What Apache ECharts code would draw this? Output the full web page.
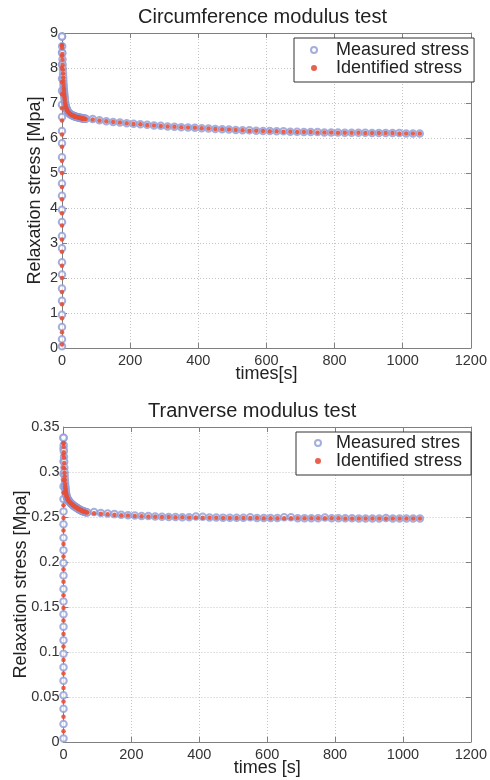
<!DOCTYPE html>
<html>
<head>
<meta charset="utf-8">
<script src="https://cdn.jsdelivr.net/npm/echarts@6/dist/echarts.min.js"></script>
<style>
html,body{margin:0;padding:0;background:#fff;}
#c{width:490px;height:780px;}
</style>
</head>
<body>
<div id="c"></div>
<script>
// ---------- Top chart: Circumference modulus test ----------
const topTitle = "Circumference modulus test";
const topLegend = ["Measured stress", "Identified stress"];
const topLoadMeasured = [0.05,0.25,0.6,0.95,1.35,1.7,2.1,2.45,2.85,3.2,3.6,3.95,4.35,4.7,5.1,5.45,5.85,6.2,6.6,6.95,7.35,7.7,8.1,8.45,8.9];
const topLoadIdentified = [0.1,0.45,0.85,1.25,1.6,2.0,2.35,2.75,3.1,3.5,3.85,4.25,4.6,5.0,5.35,5.75,6.1,6.5,6.85,7.25,7.6,8.0,8.35,8.65];
const topDenseTime = [0,0.5,1,1.5,2,2.5,3,3.5,4,4.5,5,5.5,6,6.5,7,7.5,8,9,10,11,12,13,14,15,16,18,20,22,24,26,28,30,32,34,36,38,40,42,44,46,48,50,52,54,56,58,60,62,64,66,68,70];
const topDenseMeasured = [8.90,8.62,8.42,8.25,8.10,7.97,7.85,7.74,7.64,7.55,7.47,7.40,7.33,7.27,7.21,7.16,7.11,7.03,6.97,6.92,6.88,6.85,6.82,6.80,6.78,6.75,6.72,6.70,6.68,6.67,6.66,6.65,6.64,6.63,6.62,6.62,6.61,6.60,6.60,6.59,6.59,6.58,6.58,6.57,6.57,6.57,6.56,6.56,6.56,6.55,6.55,6.55];
const topDenseIdentified = [8.65,8.58,8.40,8.24,8.09,7.96,7.84,7.73,7.63,7.54,7.46,7.39,7.32,7.26,7.20,7.15,7.10,7.02,6.96,6.91,6.87,6.84,6.81,6.79,6.77,6.74,6.72,6.70,6.68,6.67,6.66,6.65,6.64,6.63,6.62,6.61,6.61,6.60,6.60,6.59,6.59,6.58,6.58,6.57,6.57,6.56,6.56,6.56,6.55,6.55,6.55,6.54];
const topSparseTime = [90,110,130,150,170,190,210,230,250,270,290,310,330,350,370,390,410,430,450,470,490,510,530,550,570,590,610,630,650,670,690,710,730,750,770,790,810,830,850,870,890,910,930,950,970,990,1010,1030,1050];
const topSparseMeasured = [6.54,6.51,6.48,6.46,6.44,6.42,6.41,6.39,6.38,6.36,6.35,6.33,6.32,6.31,6.30,6.29,6.28,6.27,6.26,6.25,6.24,6.23,6.22,6.22,6.21,6.20,6.20,6.19,6.19,6.18,6.18,6.17,6.17,6.17,6.16,6.16,6.16,6.15,6.15,6.15,6.15,6.14,6.14,6.14,6.14,6.14,6.13,6.13,6.13];
const topSparseIdentified = [6.53,6.50,6.48,6.46,6.44,6.42,6.40,6.39,6.37,6.36,6.34,6.33,6.32,6.31,6.30,6.29,6.28,6.27,6.26,6.25,6.24,6.23,6.22,6.21,6.21,6.20,6.19,6.19,6.18,6.18,6.17,6.17,6.17,6.16,6.16,6.16,6.15,6.15,6.15,6.15,6.14,6.14,6.14,6.14,6.14,6.13,6.13,6.13,6.13];

// ---------- Bottom chart: Tranverse modulus test ----------
const botTitle = "Tranverse modulus test";
const botLegend = ["Measured stres", "Identified stress"];
const botLoadMeasured = [0.004,0.02,0.037,0.052,0.068,0.083,0.098,0.113,0.128,0.142,0.156,0.17,0.185,0.199,0.213,0.227,0.242,0.256,0.27,0.284,0.298,0.312,0.326,0.338];
const botLoadIdentified = [0.012,0.028,0.045,0.06,0.076,0.091,0.106,0.12,0.135,0.149,0.163,0.178,0.192,0.206,0.22,0.235,0.249,0.263,0.277,0.291,0.305,0.319,0.332];
const botDenseTime = [0,0.5,1,1.5,2,2.5,3,3.5,4,4.5,5,5.5,6,6.5,7,7.5,8,9,10,11,12,13,14,15,16,18,20,22,24,26,28,30,32,34,36,38,40,42,44,46,48,50,52,54,56,58,60,62,64,66,68,70];
const botDenseMeasured = [0.338,0.330,0.323,0.317,0.311,0.305,0.300,0.296,0.292,0.288,0.285,0.283,0.281,0.279,0.277,0.276,0.275,0.273,0.272,0.271,0.270,0.2695,0.269,0.268,0.2675,0.267,0.266,0.265,0.2645,0.264,0.263,0.2625,0.262,0.2615,0.261,0.2605,0.260,0.2595,0.259,0.2585,0.258,0.2577,0.2573,0.257,0.2567,0.2564,0.2561,0.2558,0.2556,0.2554,0.2552,0.255];
const botDenseIdentified = [0.332,0.328,0.322,0.316,0.310,0.304,0.299,0.295,0.291,0.287,0.284,0.282,0.280,0.278,0.277,0.276,0.275,0.273,0.272,0.271,0.270,0.269,0.2685,0.268,0.2675,0.2665,0.266,0.265,0.2645,0.264,0.2632,0.2625,0.262,0.2615,0.261,0.2605,0.260,0.2595,0.259,0.2586,0.2582,0.2578,0.2574,0.257,0.2567,0.2564,0.2561,0.2558,0.2555,0.2553,0.2551,0.2549];
const botSparseTime = [90,110,130,150,170,190,210,230,250,270,290,310,330,350,370,390,410,430,450,470,490,510,530,550,570,590,610,630,650,670,690,710,730,750,770,790,810,830,850,870,890,910,930,950,970,990,1010,1030,1050];
const botSparseMeasured = [0.2555,0.2545,0.2540,0.2532,0.2525,0.2520,0.2516,0.2512,0.2510,0.2506,0.2504,0.2500,0.2501,0.2498,0.2497,0.2505,0.2503,0.2495,0.2494,0.2493,0.2492,0.2492,0.2491,0.2496,0.2490,0.2489,0.2489,0.2488,0.2496,0.2497,0.2487,0.2487,0.2486,0.2486,0.2494,0.2486,0.2485,0.2485,0.2485,0.2484,0.2484,0.2484,0.2484,0.2490,0.2483,0.2483,0.2483,0.2483,0.2483];
const botSparseIdentified = [0.2542,0.2536,0.2530,0.2525,0.2520,0.2516,0.2512,0.2509,0.2506,0.2503,0.2501,0.2499,0.2497,0.2496,0.2495,0.2494,0.2493,0.2492,0.2491,0.2490,0.2490,0.2489,0.2489,0.2488,0.2488,0.2487,0.2487,0.2487,0.2486,0.2486,0.2486,0.2486,0.2485,0.2485,0.2485,0.2485,0.2485,0.2484,0.2484,0.2484,0.2484,0.2484,0.2484,0.2483,0.2483,0.2483,0.2483,0.2483,0.2483];

const xName1 = "times[s]", xName2 = "times [s]";
const yName = "Relaxation stress [Mpa]";

// ---------- build ----------
const FONT = "'Liberation Sans', Arial, sans-serif";
const BLUE = '#8e9bd6', RED = '#e4503a', AX = '#808080';

function pts(times, vals) { return vals.map((v, i) => [times[i], v]); }
function loadPts(vals) { return vals.map(v => [0, v]); }

const topMeasured = loadPts(topLoadMeasured).concat(pts(topDenseTime, topDenseMeasured), pts(topSparseTime, topSparseMeasured));
const topIdentified = loadPts(topLoadIdentified).concat(pts(topDenseTime, topDenseIdentified), pts(topSparseTime, topSparseIdentified));
const botMeasured = loadPts(botLoadMeasured).concat(pts(botDenseTime, botDenseMeasured), pts(botSparseTime, botSparseMeasured));
const botIdentified = loadPts(botLoadIdentified).concat(pts(botDenseTime, botDenseIdentified), pts(botSparseTime, botSparseIdentified));

function xAxes(gi, name) {
  const base = {gridIndex: gi, type: 'value', min: 0, max: 1200, interval: 200,
    axisLine: {show: true, onZero: false, lineStyle: {color: AX, width: 1}},
    axisTick: {show: true, inside: true, length: 5, lineStyle: {color: AX}}};
  return [
    Object.assign({}, base, {position: 'bottom', name: name, nameLocation: 'middle', nameGap: 17, nameMoveOverlap: false,
      nameTextStyle: {fontFamily: FONT, fontSize: 18, color: '#222'},
      axisLabel: {show: true, margin: 5, fontFamily: FONT, fontSize: 14.5, color: '#333', formatter: v => String(v)},
      splitLine: {show: true, lineStyle: {color: '#c4c4c4', type: [1, 2], width: 1}}}),
    Object.assign({}, base, {position: 'top', axisLabel: {show: false}, splitLine: {show: false}})
  ];
}
function yAxes(gi, max, interval, gap, fmt) {
  const base = {gridIndex: gi, type: 'value', min: 0, max: max, interval: interval,
    axisLine: {show: true, onZero: false, lineStyle: {color: AX, width: 1}},
    axisTick: {show: true, inside: true, length: 5, lineStyle: {color: AX}}};
  return [
    Object.assign({}, base, {position: 'left', name: yName, nameLocation: 'middle', nameGap: gap, nameMoveOverlap: false,
      nameTextStyle: {fontFamily: FONT, fontSize: 18, color: '#222'},
      axisLabel: {show: true, margin: 4, fontFamily: FONT, fontSize: 14.5, color: '#333', formatter: fmt},
      splitLine: {show: true, lineStyle: {color: '#c4c4c4', type: [1, 2], width: 1}}}),
    Object.assign({}, base, {position: 'right', axisLabel: {show: false}, splitLine: {show: false}})
  ];
}
function measuredSeries(name, xi, yi, data) {
  return {name: name, type: 'scatter', xAxisIndex: xi, yAxisIndex: yi, data: data,
    symbol: 'emptyCircle', symbolSize: 6.5, silent: true,
    itemStyle: {color: BLUE, borderColor: BLUE, borderWidth: 1}, z: 2};
}
function identifiedSeries(name, xi, yi, data) {
  return {name: name, type: 'scatter', xAxisIndex: xi, yAxisIndex: yi, data: data,
    symbol: 'circle', symbolSize: 4.5, silent: true,
    itemStyle: {color: RED, opacity: 0.9}, z: 3};
}
function legend(names, left, top, padding, textPad) {
  return {data: names, orient: 'vertical', left: left, top: top, padding: padding,
    itemGap: 0, itemWidth: 6, itemHeight: 6, backgroundColor: '#fff',
    borderColor: '#333', borderWidth: 1, borderRadius: 0, selectedMode: false,
    textStyle: {fontFamily: FONT, fontSize: 18, color: '#222', lineHeight: 16, padding: [0, 0, 0, textPad]}};
}

const chart = echarts.init(document.getElementById('c'), null, {renderer: 'canvas'});
chart.setOption({
  backgroundColor: '#fff',
  animation: false,
  title: [
    {text: topTitle, left: 133, top: 2, textStyle: {fontFamily: FONT, fontSize: 20, fontWeight: 'normal', color: '#222'}},
    {text: botTitle, left: 143, top: 396, textStyle: {fontFamily: FONT, fontSize: 20, fontWeight: 'normal', color: '#222'}}
  ],
  legend: [
    legend(topLegend, 294, 38, [3, 5, 5, 16], 14),
    legend(botLegend, 296, 432, [2, 9, 5, 18], 10)
  ],
  grid: [
    {left: 62, top: 33, width: 411, height: 315, containLabel: false},
    {left: 63.5, top: 427, width: 411.5, height: 315, containLabel: false}
  ],
  xAxis: xAxes(0, xName1).concat(xAxes(1, xName2)),
  yAxis: yAxes(0, 9, 1, 18, v => String(v)).concat(yAxes(1, 0.35, 0.05, 33, v => String(+v.toFixed(2)))),
  series: [
    measuredSeries(topLegend[0], 0, 0, topMeasured),
    identifiedSeries(topLegend[1], 0, 0, topIdentified),
    measuredSeries(botLegend[0], 2, 2, botMeasured),
    identifiedSeries(botLegend[1], 2, 2, botIdentified)
  ]
});
</script>
</body>
</html>
